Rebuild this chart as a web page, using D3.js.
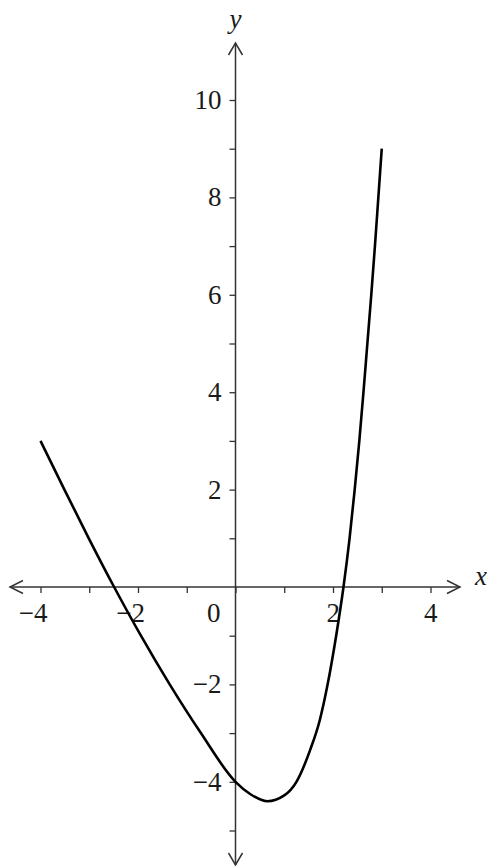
<!DOCTYPE html>
<html>
<head>
<meta charset="utf-8">
<script src="https://cdn.jsdelivr.net/npm/d3@7"></script>
<style>
  body { margin: 0; background: #fff; }
  text { font-family: "Liberation Serif", "Times New Roman", "DejaVu Serif", serif; }
</style>
</head>
<body>
<div id="chart"></div>
<script>
// curve points
const curveX = [-4, -3.51, -3.01, -2.49, -1.94, -1.35, -0.71, 0, 0.3, 0.65, 1.0, 1.25, 1.53, 1.73, 1.88, 2.065, 2.215, 2.34, 2.445, 2.54, 2.625, 2.705, 2.785, 2.86, 2.93, 3.0];
const curveY = [3, 2, 1, 0, -1, -2, -3, -4, -4.25, -4.4, -4.28, -4, -3.35, -2.73, -2.05, -1, 0, 1, 2, 3, 4, 5, 6, 7, 8, 9];

const xTicks = [-4, -3, -2, -1, 0, 1, 2, 3, 4];
const yTicks = [-5, -4, -3, -2, -1, 1, 2, 3, 4, 5, 6, 7, 8, 9, 10];
const xTickLabels = [-4, -2, 0, 2, 4];
const yTickLabels = [-4, -2, 2, 4, 6, 8, 10];

const W = 488, H = 866;
const FONT = '"Liberation Serif", "Times New Roman", "DejaVu Serif", serif';

function createScales() {
  const xScale = d3.scaleLinear().domain([-4, 4]).range([40.5, 430.5]);
  const yScale = d3.scaleLinear().domain([-5, 10]).range([830.5, 100]);
  return { xScale, yScale };
}

function fmt(v) {
  return v < 0 ? "\u2212" + Math.abs(v) : String(v);
}

function drawAxes(svg, xScale, yScale) {
  const axisColor = "#333";
  const x0 = xScale(0), y0 = yScale(0);
  const left = 10, right = 460, top = 43, bottom = 865;

  // main lines
  svg.append("line").attr("x1", left).attr("x2", right).attr("y1", y0).attr("y2", y0)
    .attr("stroke", axisColor).attr("stroke-width", 1.5);
  svg.append("line").attr("x1", x0).attr("x2", x0).attr("y1", top).attr("y2", bottom)
    .attr("stroke", axisColor).attr("stroke-width", 1.5);

  // open arrow heads
  const arrows = [
    `M${left + 13},${y0 - 6.5} L${left},${y0} L${left + 13},${y0 + 6.5}`,
    `M${right - 13},${y0 - 6.5} L${right},${y0} L${right - 13},${y0 + 6.5}`,
    `M${x0 - 7},${top + 12} L${x0},${top} L${x0 + 7},${top + 12}`,
    `M${x0 - 7},${bottom - 12} L${x0},${bottom} L${x0 + 7},${bottom - 12}`
  ];
  svg.selectAll(".arrow").data(arrows).enter().append("path")
    .attr("class", "arrow").attr("d", (d) => d)
    .attr("fill", "none").attr("stroke", axisColor).attr("stroke-width", 1.5);

  // ticks
  const xAxis = d3.axisBottom(xScale).tickValues(xTicks).tickSize(6).tickSizeOuter(0).tickFormat("");
  const gx = svg.append("g").attr("transform", `translate(0,${y0})`).call(xAxis);
  gx.select(".domain").remove();
  gx.selectAll("line").attr("stroke", axisColor).attr("stroke-width", 1.3);

  const yAxis = d3.axisLeft(yScale).tickValues(yTicks).tickSize(6).tickSizeOuter(0).tickFormat("");
  const gy = svg.append("g").attr("transform", `translate(${x0},0)`).call(yAxis);
  gy.select(".domain").remove();
  gy.selectAll("line").attr("stroke", axisColor).attr("stroke-width", 1.3);

  // tick labels
  svg.selectAll(".xlab").data(xTickLabels).enter().append("text")
    .attr("class", "xlab")
    .attr("x", (d) => (d === 0 ? x0 - 15 : xScale(d) + 7))
    .attr("y", y0 + 35)
    .attr("text-anchor", "end")
    .attr("font-family", FONT)
    .style("font-size", "27px")
    .style("fill", "#1a1a1a")
    .text(fmt);

  svg.selectAll(".ylab").data(yTickLabels).enter().append("text")
    .attr("class", "ylab")
    .attr("x", x0 - 14)
    .attr("y", (d) => yScale(d) + 9)
    .attr("text-anchor", "end")
    .attr("font-family", FONT)
    .style("font-size", "27px")
    .style("fill", "#1a1a1a")
    .text(fmt);

  // axis names
  svg.append("text").attr("x", 481).attr("y", y0 - 2).attr("text-anchor", "middle")
    .attr("font-family", FONT)
    .style("font-size", "27px").style("font-style", "italic").style("fill", "#1a1a1a").text("x");
  svg.append("text").attr("x", x0).attr("y", 28).attr("text-anchor", "middle")
    .attr("font-family", FONT)
    .style("font-size", "27px").style("font-style", "italic").style("fill", "#1a1a1a").text("y");
}

function drawCurve(svg, xScale, yScale) {
  const pts = curveX.map((x, i) => [x, curveY[i]]);
  const line = d3.line()
    .x((d) => xScale(d[0]))
    .y((d) => yScale(d[1]))
    .curve(d3.curveMonotoneX);
  svg.append("path").datum(pts)
    .attr("d", line)
    .attr("fill", "none")
    .attr("stroke", "#000")
    .attr("stroke-width", 2.6);
}

const svg = d3.select("#chart").append("svg").attr("width", W).attr("height", H);
svg.append("rect").attr("width", W).attr("height", H).attr("fill", "#fff");
const { xScale, yScale } = createScales();
drawAxes(svg, xScale, yScale);
drawCurve(svg, xScale, yScale);
</script>
</body>
</html>
